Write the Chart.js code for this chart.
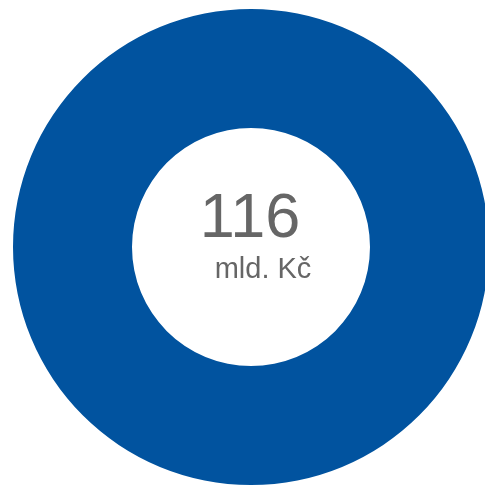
<!DOCTYPE html>
<html>
<head>
<meta charset="utf-8">
<script src="https://cdn.jsdelivr.net/npm/chart.js@4"></script>
<style>
  html, body { margin: 0; padding: 0; overflow: hidden; background: #fff; }
  #wrap { position: absolute; left: 0; top: 0; width: 502px; height: 494px; }
</style>
</head>
<body>
<div id="wrap"><canvas id="donut"></canvas></div>
<script>
// Données
const labels = ['Celkem'];
const values = [116];
const centerValue = '116';
const centerUnit = 'mld. Kč';

const centerText = {
  id: 'centerText',
  afterDraw(chart) {
    const c = chart.ctx;
    const arc = chart.getDatasetMeta(0).data[0];
    const x = arc.x, y = arc.y;
    c.save();
    c.fillStyle = '#666666';
    c.textAlign = 'center';
    c.textBaseline = 'alphabetic';
    c.font = '63px "Liberation Sans", Arial, sans-serif';
    c.fillText(centerValue, x - 1, y - 10);
    c.font = '29px "Liberation Sans", Arial, sans-serif';
    c.fillText(centerUnit, x + 12, y + 31);
    c.restore();
  }
};

new Chart(document.getElementById('donut').getContext('2d'), {
  type: 'doughnut',
  data: {
    labels: labels,
    datasets: [{
      data: values,
      backgroundColor: '#01539f',
      borderWidth: 0
    }]
  },
  options: {
    responsive: true,
    maintainAspectRatio: false,
    animation: false,
    cutout: '50%',
    layout: { padding: 9 },
    plugins: {
      legend: { display: false },
      tooltip: { enabled: false }
    }
  },
  plugins: [centerText]
});
</script>
</body>
</html>
